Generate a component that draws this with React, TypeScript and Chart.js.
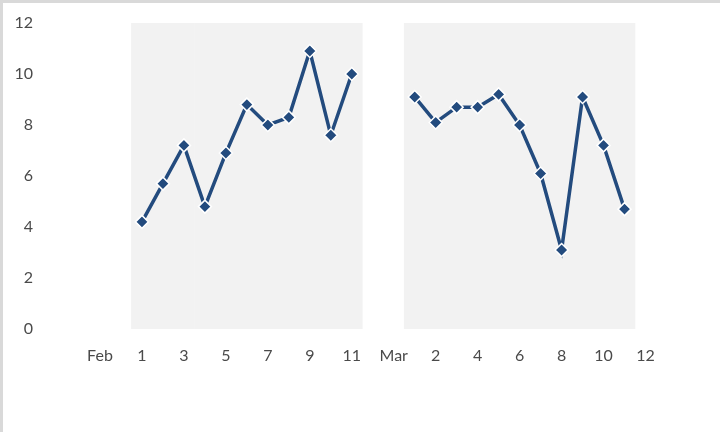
import React, { useEffect, useRef } from "react";
import { Chart, registerables } from "chart.js";

Chart.register(...registerables);

const categories: string[] = [
  "Feb", "", "1", "2", "3", "4", "5", "6", "7", "8", "9", "10", "11", "12",
  "Mar", "1", "2", "3", "4", "5", "6", "7", "8", "9", "10", "11", "12",
];

const febValues: number[] = [4.2, 5.7, 7.2, 4.8, 6.9, 8.8, 8.0, 8.3, 10.9, 7.6, 10.0];
const marValues: number[] = [9.1, 8.1, 8.7, 8.7, 9.2, 8.0, 6.1, 3.1, 9.1, 7.2, 4.7];
const shadeValue = 12;
const yTicks: number[] = [0, 2, 4, 6, 8, 10, 12];

const lineData: (number | null)[] = [
  null, null, ...febValues, null, null, ...marValues, null,
];
const shadeData: (number | null)[] = lineData.map((v) => (v === null ? null : shadeValue));

const borderPlugin = {
  id: "frame",
  beforeDraw(chart: any) {
    const ctx = chart.ctx;
    ctx.save();
    ctx.fillStyle = "#ffffff";
    ctx.fillRect(0, 0, chart.width, chart.height);
    ctx.fillStyle = "#d9d9d9";
    ctx.fillRect(0, 0, chart.width, 3);
    ctx.fillRect(0, 0, 3, chart.height);
    ctx.restore();
  },
};

export default function App() {
  const ref = useRef<HTMLCanvasElement>(null);
  useEffect(() => {
    const canvas = ref.current!;
    const chart = new Chart(canvas, {
      type: "bar",
      data: {
        labels: categories,
        datasets: [
          {
            type: "line",
            data: lineData,
            borderColor: "#234B7E",
            backgroundColor: "#234B7E",
            borderWidth: 3.5,
            pointStyle: "rectRot",
            pointRadius: 6.5,
            pointBorderColor: "#ffffff",
            pointBorderWidth: 1.5,
            pointBackgroundColor: "#234B7E",
            spanGaps: false,
            order: 1,
          } as any,
          {
            type: "bar",
            data: shadeData,
            backgroundColor: "#F2F2F2",
            borderWidth: 0,
            categoryPercentage: 1,
            barPercentage: 1,
            order: 2,
          },
        ],
      },
      options: {
        animation: false,
        responsive: false,
        maintainAspectRatio: false,
        layout: { padding: { top: 23, right: 64, bottom: 0, left: 0 } },
        plugins: { legend: { display: false }, tooltip: { enabled: false } },
        scales: {
          x: {
            offset: true,
            grid: { display: false, drawTicks: false },
            border: { display: false },
            ticks: {
              autoSkip: false,
              maxRotation: 0,
              padding: 17,
              color: "#4a4a4a",
              font: { family: "Lato", size: 16 },
              callback: (_v: any, i: number) => (i % 2 === 0 ? categories[i] : ""),
            },
            afterFit: (s: any) => {
              s.height = 103;
              s.paddingLeft = 0;
              s.paddingRight = 0;
            },
          },
          y: {
            min: 0,
            max: 12,
            grid: { display: false, drawTicks: false },
            border: { display: false },
            afterBuildTicks: (s: any) => {
              s.ticks = yTicks.map((v) => ({ value: v }));
            },
            ticks: {
              padding: 56.5,
              color: "#4a4a4a",
              font: { family: "Lato", size: 16 },
            },
            afterFit: (s: any) => {
              s.width = 89.5;
              s.paddingTop = 0;
              s.paddingBottom = 0;
            },
          },
        },
      },
      plugins: [borderPlugin],
    });
    return () => chart.destroy();
  }, []);
  return (
    <div style={{ position: "fixed", left: 0, top: 0, width: 720, height: 432 }}>
      <canvas ref={ref} width={720} height={432} style={{ display: "block" }} />
    </div>
  );
}
